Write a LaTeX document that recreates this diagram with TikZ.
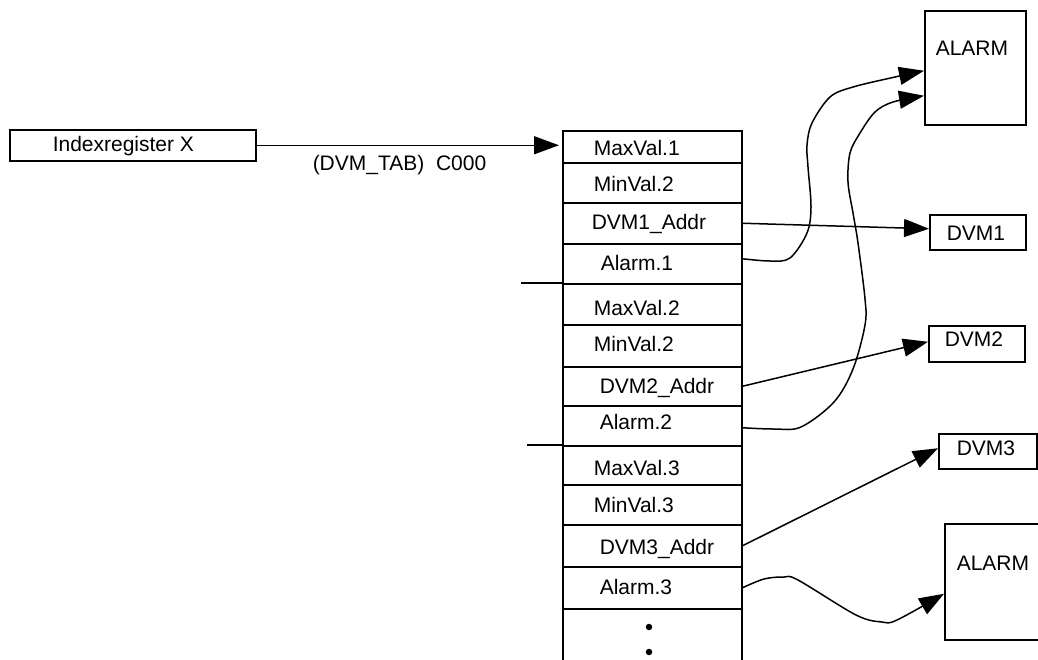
\documentclass[tikz,border=0pt]{standalone}
\usepackage{fontspec}
\setmainfont{Liberation Sans}
\usetikzlibrary{arrows.meta}
\begin{document}
\begin{tikzpicture}[x=1pt,y=-1pt,line width=1.5pt,
  every node/.style={font=\fontsize{21}{25}\selectfont},
  box/.style={draw,anchor=north west,inner sep=0pt},
  cell/.style={box,minimum width=179pt},
  txt/.style={anchor=base west,inner sep=0pt},
  dotmark/.style={circle,fill,inner sep=0pt,minimum size=6.5pt},
  arr/.style={-{Triangle[length=25pt,width=18pt]}}]
\useasboundingbox (0,0) rectangle (1038,659);
\clip (0,0) rectangle (1038,659);

% index register
\node[box,minimum width=246pt,minimum height=31pt] (idx) at (9,129) {};
\node[txt] (idxt) at (52,151) {Indexregister X};
\node[txt] (lab) at (312,170) {(DVM\_TAB)\ \ C000};

% table cells
\node[cell,minimum height=32pt] (r1) at (562,130) {};
\node[cell,minimum height=40pt] (r2) at (562,162) {};
\node[cell,minimum height=41pt] (r3) at (562,202) {};
\node[cell,minimum height=40pt] (r4) at (562,243) {};
\node[cell,minimum height=41pt] (r5) at (562,283) {};
\node[cell,minimum height=42pt] (r6) at (562,324) {};
\node[cell,minimum height=39pt] (r7) at (562,366) {};
\node[cell,minimum height=40pt] (r8) at (562,405) {};
\node[cell,minimum height=39pt] (r9) at (562,445) {};
\node[cell,minimum height=40pt] (r10) at (562,484) {};
\node[cell,minimum height=42pt] (r11) at (562,524) {};
\node[cell,minimum height=42pt] (r12) at (562,566) {};
\node[cell,minimum height=80pt] (r13) at (562,608) {};

% table texts
\node[txt] (t1) at (593,155) {MaxVal.1};
\node[txt] (t2) at (593,191) {MinVal.2};
\node[txt] (t3) at (591,229) {DVM1\_Addr};
\node[txt] (t4) at (600,270) {Alarm.1};
\node[txt] (t5) at (593,315) {MaxVal.2};
\node[txt] (t6) at (593,351) {MinVal.2};
\node[txt] (t7) at (599,393) {DVM2\_Addr};
\node[txt] (t8) at (599,429) {Alarm.2};
\node[txt] (t9) at (593,475) {MaxVal.3};
\node[txt] (t10) at (593,512) {MinVal.3};
\node[txt] (t11) at (599,554) {DVM3\_Addr};
\node[txt] (t12) at (599,594) {Alarm.3};
\node[dotmark] (d1) at (649,627) {};
\node[dotmark] (d2) at (649,652) {};

% separators
\coordinate (s1) at (521,283);
\coordinate (s2) at (527,445);
\draw (s1) -- (r5.north west);
\draw (s2) -- (r9.north west);

% right boxes
\node[box,minimum width=101pt,minimum height=114pt] (al1) at (924,10) {};
\node[txt] (al1t) at (935,55) {ALARM};
\node[box,minimum width=96pt,minimum height=35pt] (dvm1) at (929,214) {};
\node[txt] (dvm1t) at (946,240) {DVM1};
\node[box,minimum width=96pt,minimum height=36pt] (dvm2) at (928,325) {};
\node[txt] (dvm2t) at (944,346) {DVM2};
\node[box,minimum width=98pt,minimum height=35pt] (dvm3) at (938,433) {};
\node[txt] (dvm3t) at (956,455) {DVM3};
\node[box,minimum width=130pt,minimum height=116pt] (al2) at (944,523) {};
\node[txt] (al2t) at (956,570) {ALARM};

% straight connectors
\draw[arr,shorten >=3pt] (idx.east) -- (idx.east -| r1.west);
\draw[arr] (r3.east) -- ([yshift=3.5pt]dvm1.west);
\draw[arr] (r7.east) -- ([yshift=2pt]dvm2.west);
\draw[arr] (r11.east) -- ([yshift=3pt]dvm3.west);

% curved connectors
\coordinate (c1s) at ([yshift=5pt]r4.east);
\coordinate (c1e) at ([yshift=-3pt]al1.west);
\draw[arr] plot[smooth,tension=0.55] coordinates {(c1s) (770,261) (790,258) (807,233) (811,207) (808,167) (807,145) (812,123) (830,97) (853,87) (895,77) (c1e)};

\coordinate (c2s) at ([yshift=-2pt]r8.east);
\coordinate (c2e) at ([yshift=-28pt]al1.west);
\draw[arr] plot[smooth,tension=0.55] coordinates {(c2s) (774,429) (801,427) (834,402) (853,369) (865,325) (865,299) (858,243) (853,213) (848,182) (850,153) (860,133) (875,112) (893,102) (c2e)};

\coordinate (c3s) at (r12.east);
\coordinate (c3e) at ([yshift=-12pt]al2.west);
\draw[arr] plot[smooth,tension=0.55] coordinates {(c3s) (764,579) (784,577) (798,580) (856,615) (882,622) (897,620) (c3e)};
\end{tikzpicture}
\end{document}
